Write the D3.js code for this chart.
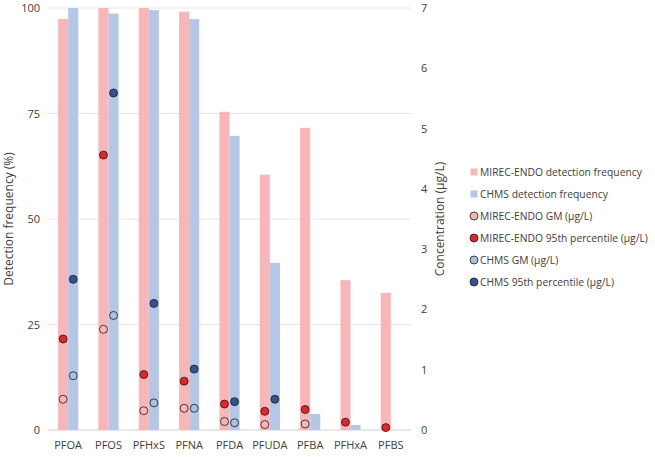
<!DOCTYPE html>
<html>
<head>
<meta charset="utf-8">
<script src="https://cdn.jsdelivr.net/npm/d3@7"></script>
<style>
  body { margin: 0; background: #fff; }
  text { font-family: "Open Sans", sans-serif; fill: #404040; }
</style>
</head>
<body>
<div id="chart"></div>
<script>
const width = 655;
const height = 457;

// Data
const analytes = ["PFOA", "PFOS", "PFHxS", "PFNA", "PFDA", "PFUDA", "PFBA", "PFHxA", "PFBS"];
const mirecFreq = [97.4, 100, 100, 99.1, 75.4, 60.5, 71.6, 35.5, 32.5];
const chmsFreq = [100, 98.7, 99.5, 97.4, 69.7, 39.6, 3.8, 1.2, null];
const mirecGM = [0.51, 1.67, 0.32, 0.36, 0.14, 0.09, 0.10, null, null];
const mirecP95 = [1.51, 4.56, 0.92, 0.81, 0.43, 0.31, 0.34, 0.13, 0.04];
const chmsGM = [0.90, 1.90, 0.45, 0.36, 0.12, null, null, null, null];
const chmsP95 = [2.50, 5.59, 2.10, 1.01, 0.47, 0.51, null, null, null];
const freqTicks = [0, 25, 50, 75, 100];
const concTicks = [0, 1, 2, 3, 4, 5, 6, 7];

const margin = { top: 8, left: 48, right: 245, bottom: 27 };

const svg = d3.select("#chart")
    .append("svg")
    .attr("width", width)
    .attr("height", height);

const x = d3.scaleBand()
    .domain(analytes)
    .range([margin.left, 411])
    .paddingInner(0.5)
    .paddingOuter(0.25);

const sub = d3.scaleBand()
    .domain(["mirec", "chms"])
    .range([0, x.bandwidth()]);

const yFreq = d3.scaleLinear().domain([0, 100]).range([430, margin.top]);
const yConc = d3.scaleLinear().domain([0, 7]).range([430, margin.top]);

// gridlines
svg.append("g")
    .selectAll("line")
    .data(freqTicks)
    .enter()
    .append("line")
    .attr("x1", margin.left)
    .attr("x2", 411)
    .attr("y1", d => yFreq(d))
    .attr("y2", d => yFreq(d))
    .attr("stroke", d => d === 0 ? "#d0d0d0" : "#e4e4e4")
    .attr("stroke-width", 1);

// bars
const barData = [];
analytes.forEach((a, i) => {
    barData.push({ a: a, key: "mirec", v: mirecFreq[i], color: "#f8b6b8" });
    if (chmsFreq[i] != null) barData.push({ a: a, key: "chms", v: chmsFreq[i], color: "#b4c7e7" });
});

svg.append("g")
    .selectAll("rect")
    .data(barData)
    .enter()
    .append("rect")
    .attr("x", d => x(d.a) + sub(d.key))
    .attr("y", d => yFreq(d.v))
    .attr("width", sub.bandwidth())
    .attr("height", d => yFreq(0) - yFreq(d.v))
    .attr("fill", d => d.color);

// points
const pointSeries = [
    { name: "MIREC-ENDO GM (\u03bcg/L)", values: mirecGM, key: "mirec", fill: "#f8b6b8" },
    { name: "MIREC-ENDO 95th percentile (\u03bcg/L)", values: mirecP95, key: "mirec", fill: "#e3262c" },
    { name: "CHMS GM (\u03bcg/L)", values: chmsGM, key: "chms", fill: "#a9bfe4" },
    { name: "CHMS 95th percentile (\u03bcg/L)", values: chmsP95, key: "chms", fill: "#2f5597" }
];

pointSeries.forEach(s => {
    const pts = analytes.map((a, i) => ({ a: a, v: s.values[i] })).filter(d => d.v != null);
    svg.append("g")
        .selectAll("circle")
        .data(pts)
        .enter()
        .append("circle")
        .attr("cx", d => x(d.a) + sub(s.key) + sub.bandwidth() / 2)
        .attr("cy", d => yConc(d.v))
        .attr("r", 4)
        .attr("fill", s.fill)
        .attr("stroke", "#1a1a1a")
        .attr("stroke-width", 0.8);
});

// left axis labels
svg.append("g")
    .selectAll("text")
    .data(freqTicks)
    .enter()
    .append("text")
    .attr("x", 40)
    .attr("y", d => yFreq(d) + 4)
    .attr("text-anchor", "end")
    .style("font-size", "11px")
    .text(d => d);

// right axis labels
svg.append("g")
    .selectAll("text")
    .data(concTicks)
    .enter()
    .append("text")
    .attr("x", 421)
    .attr("y", d => yConc(d) + 4)
    .style("font-size", "11px")
    .text(d => d);

// category labels
svg.append("g")
    .selectAll("text")
    .data(analytes)
    .enter()
    .append("text")
    .attr("x", d => x(d) + x.bandwidth() / 2)
    .attr("y", 449)
    .attr("text-anchor", "middle")
    .style("font-size", "11px")
    .text(d => d);

// axis titles
svg.append("text")
    .attr("transform", "translate(13," + (219) + ") rotate(-90)")
    .attr("text-anchor", "middle")
    .style("font-size", "12px")
    .text("Detection frequency (%)");

svg.append("text")
    .attr("transform", "translate(444," + (219) + ") rotate(-90)")
    .attr("text-anchor", "middle")
    .style("font-size", "12px")
    .text("Concentration (\u03bcg/L)");

// legend
const legendItems = [
    { name: "MIREC-ENDO detection frequency", type: "rect", fill: "#f8b6b8" },
    { name: "CHMS detection frequency", type: "rect", fill: "#b4c7e7" }
].concat(pointSeries.map(s => ({ name: s.name, type: "circle", fill: s.fill })));

const legend = svg.append("g")
    .selectAll("g")
    .data(legendItems)
    .enter()
    .append("g")
    .attr("transform", (d, i) => "translate(474," + (172 + i * 22) + ")");

legend.filter(d => d.type === "rect")
    .append("rect")
    .attr("x", -3.5)
    .attr("y", -3.5)
    .attr("width", 7)
    .attr("height", 7)
    .attr("fill", d => d.fill);

legend.filter(d => d.type === "circle")
    .append("circle")
    .attr("r", 4)
    .attr("fill", d => d.fill)
    .attr("stroke", "#1a1a1a")
    .attr("stroke-width", 0.8);

legend.append("text")
    .attr("x", 6)
    .attr("y", 4)
    .style("font-size", "10.3px")
    .text(d => d.name);
</script>
</body>
</html>
